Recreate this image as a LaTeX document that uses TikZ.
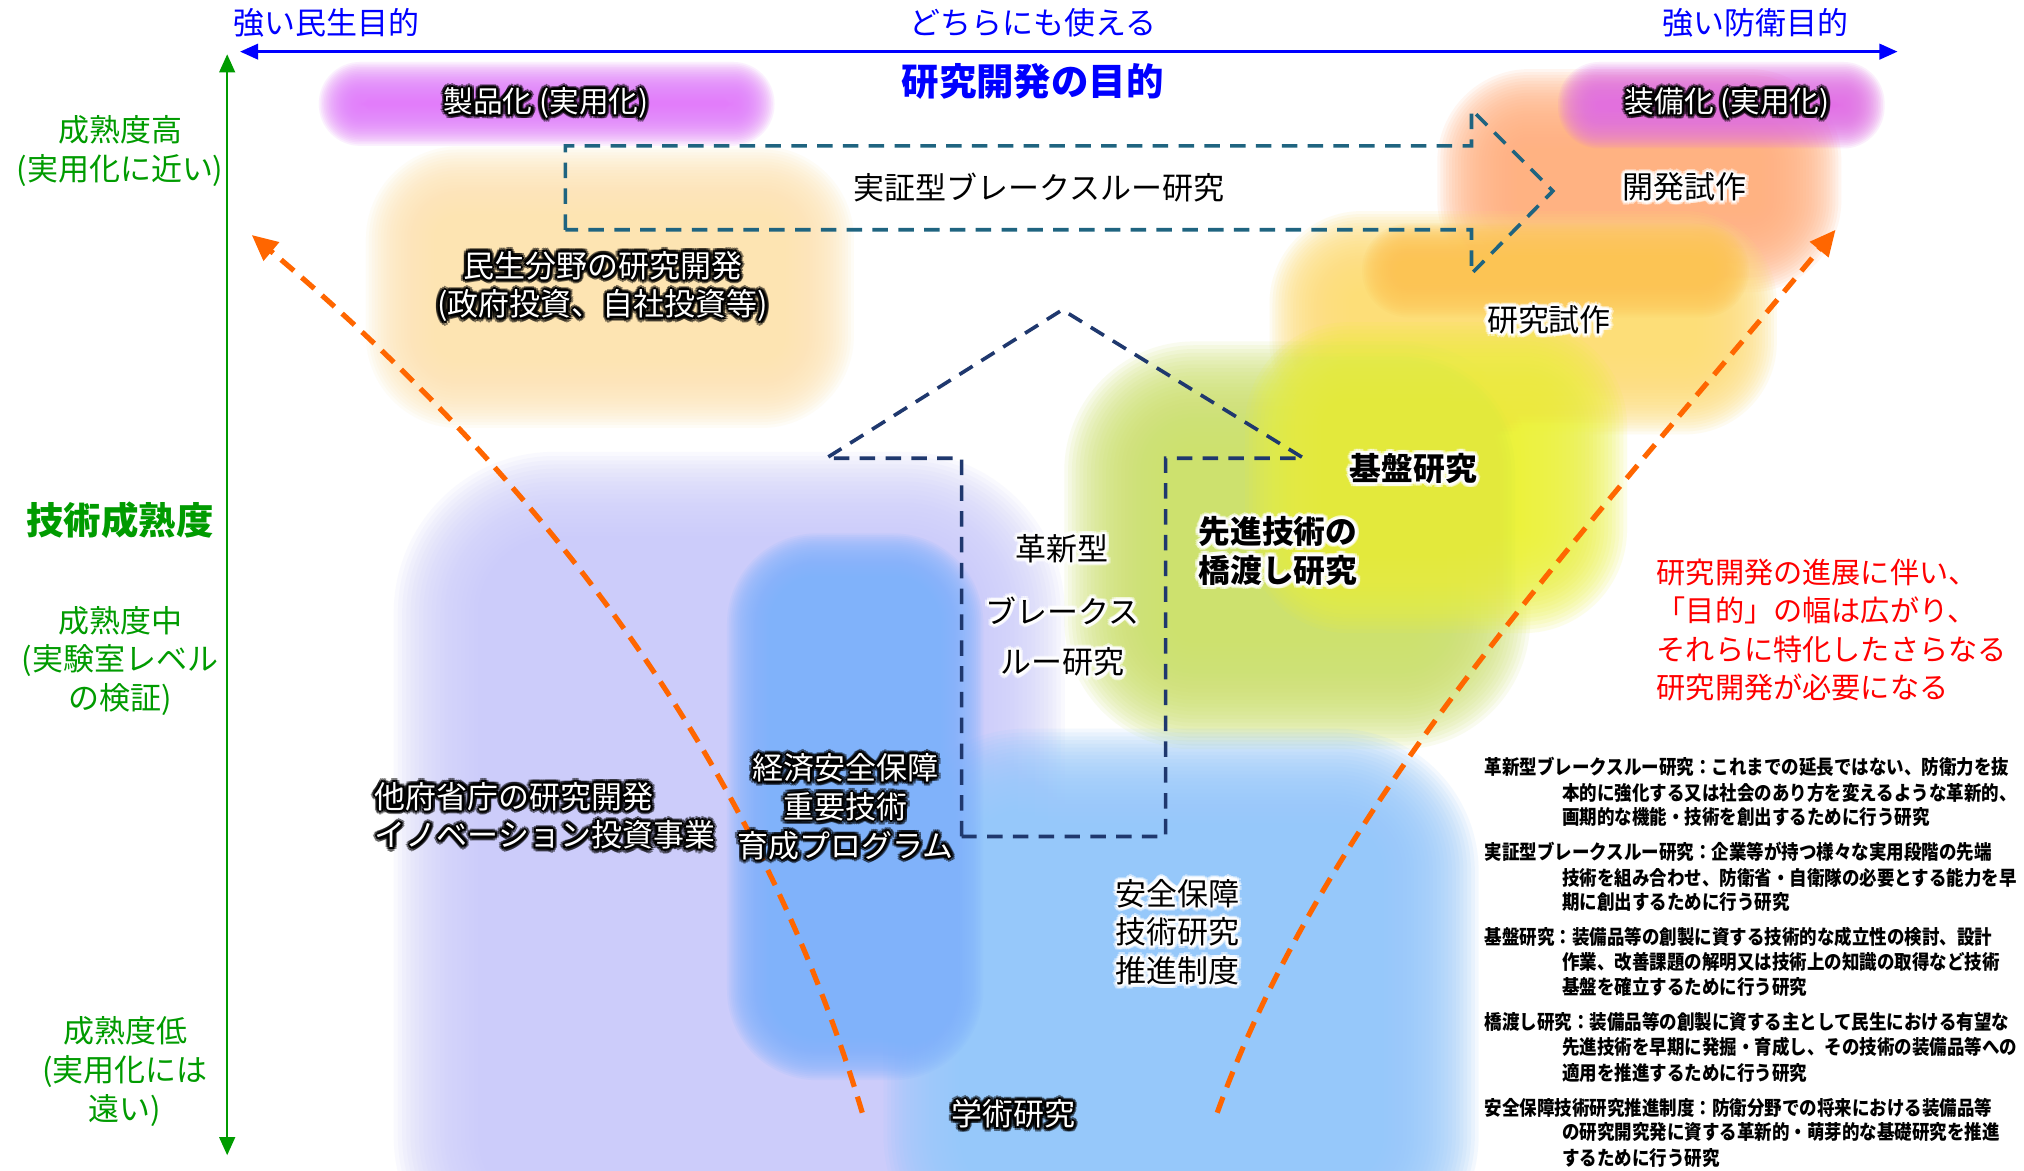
\documentclass[tikz,border=0pt]{standalone}
\usepackage{fontspec}
\setmainfont{Noto Sans CJK JP}
\newfontfamily\defn[FakeStretch=0.88]{Noto Sans CJK JP}
\usetikzlibrary{arrows.meta}
\definecolor{axblue}{RGB}{0,0,255}
\definecolor{grn}{RGB}{0,155,0}
\definecolor{teal2}{RGB}{31,100,128}
\definecolor{navy2}{RGB}{31,56,110}
\definecolor{orng}{RGB}{255,102,0}
\definecolor{lav}{RGB}{204,204,250}
\definecolor{peach}{RGB}{253,228,178}
\definecolor{pinkA}{RGB}{226,125,250}
\definecolor{pinkB}{RGB}{226,112,230}
\definecolor{orgB}{RGB}{255,178,130}
\definecolor{yelA}{RGB}{253,222,120}
\definecolor{yelB}{RGB}{252,196,84}
\definecolor{grnY}{RGB}{205,225,110}
\definecolor{yelC}{RGB}{236,242,60}
\definecolor{ltblue}{RGB}{150,200,250}
\definecolor{mdblue}{RGB}{128,178,252}
% soft blob: colour, x1, y1, x2, y2, corner radius, blur
\newcommand\blob[7]{%
  \foreach \k in {0,...,29}{%
    \pgfmathsetmacro\dd{#7*(0.9-1.9*\k/29)}%
    \pgfmathsetmacro\rr{max(#6+\dd,2)*0.5}%
    \fill[#1, opacity=0.11, rounded corners=\rr pt] ({#2-(\dd)},{#3-(\dd)}) rectangle ({#4+(\dd)},{#5+(\dd)});
  }%
}
% soft glow text node: name, style, glow colour, text colour, position, text
\newcommand\gnode[6]{%
  \foreach \a in {0,30,...,330}{\node[#2,text=#3,opacity=0.5,shift={(\a:1.6pt)}] at (#5) {#6};}%
  \foreach \a in {0,45,...,315}{\node[#2,text=#3,shift={(\a:0.8pt)}] at (#5) {#6};}%
  \node[#2,text=#4] (#1) at (#5) {#6};
}
\begin{document}
\begin{tikzpicture}[x=0.5pt,y=-0.5pt,
  lbl/.style={inner sep=0pt, align=center, font=\fontsize{12}{15}\selectfont},
  lblb/.style={lbl, font=\fontsize{12.3}{15}\selectfont\bfseries},
  lbls/.style={lbl, font=\fontsize{11.5}{14}\selectfont},
  big/.style={lbl, font=\fontsize{14.5}{17}\selectfont\bfseries},
  defs/.style={inner sep=0pt, anchor=west, font=\defn\bfseries\fontsize{7.7}{9}\selectfont},
  axis/.style={line width=1pt, {Triangle[length=7pt,width=6pt]}-{Triangle[length=7pt,width=6pt]}},
  curv/.style={orng, line width=2pt, dash pattern=on 6.5pt off 4pt, -{Triangle[length=10pt,width=9pt]}},
  bigarrow/.style={line width=1.4pt, dash pattern=on 6pt off 4pt, line join=miter}
]
\useasboundingbox (0,0) rectangle (1568,907);
\fill[white] (0,0) rectangle (1568,907);
\begin{scope}
\clip (0,0) rectangle (1568,907);
\blob{lav}{350}{395}{780}{960}{80}{50}
\blob{peach}{315}{145}{630}{300}{40}{35}
\blob{pinkA}{265}{66}{582}{95}{14}{20}
\blob{orgB}{1145}{85}{1395}{195}{40}{35}
\blob{yelA}{1015}{195}{1345}{305}{40}{35}
\blob{yelB}{1075}{193}{1335}{226}{16}{22}
\blob{pinkB}{1225}{66}{1442}{97}{14}{20}
\blob{grnY}{865}{305}{1145}{540}{60}{45}
\blob{yelC}{1005}{290}{1220}{450}{40}{45}
\blob{ltblue}{725}{605}{1105}{950}{70}{45}
\blob{mdblue}{583}{433}{742}{817}{50}{22}
\end{scope}

% axes
\coordinate (hl) at (186,40); \coordinate (hr) at (1470,40);
\draw[axis, axblue] (hl) -- (hr);
\coordinate (vt) at (176,42); \coordinate (vb) at (176,895);
\draw[axis, grn] (vb) -- (vt);

\node[lbl,text=axblue] (t1) at (253,18) {強い民生目的};
\node[lbl,text=axblue] (t2) at (800,18) {どちらにも使える};
\node[lbl,text=axblue] (t3) at (1360,18) {強い防衛目的};
\node[big,text=axblue] (t4) at (800,63) {研究開発の目的};

\node[lbl,text=grn] (g1) at (93,117) {成熟度高\\(実用化に近い)};
\node[big,text=grn] (g2) at (93,403) {技術成熟度};
\node[lbl,text=grn] (g3) at (93,512) {成熟度中\\(実験室レベル\\の検証)};
\node[lbl,text=grn] (g4) at (97,830) {成熟度低\\(実用化には\\遠い)};

% big dashed arrows
\draw[bigarrow, teal2] (438,178) -- (438,113) -- (1140,113) -- (1140,85) -- (1203,148) -- (1140,212) -- (1140,178) -- cycle;
\draw[bigarrow, navy2] (745,648) -- (745,355) -- (640,355) -- (823,240) -- (1010,355) -- (903,355) -- (903,648) -- cycle;

% orange curves
\coordinate (l0) at (668,862); \coordinate (l1) at (195,182);
\coordinate (r0) at (943,862); \coordinate (r1) at (1422,178);
\draw[curv] (l0) .. controls (590,600) and (430,380) .. (l1);
\draw[curv] (r0) .. controls (1030,620) and (1230,410) .. (r1);

% labels
\gnode{p1}{lbls}{black}{white}{423,80}{製品化 (実用化)}
\gnode{p2}{lbls}{black}{white}{1338,80}{装備化 (実用化)}
\gnode{a1}{lbl}{white}{black}{805,145}{実証型ブレークスルー研究}
\gnode{a2}{lbl}{white}{black}{1305,145}{開発試作}
\gnode{a3}{lbl}{black}{white}{467,222}{民生分野の研究開発\\(政府投資、自社投資等)}
\gnode{a4}{lbl}{white}{black}{1200,248}{研究試作}
\gnode{a5}{lblb}{white}{black}{1095,363}{基盤研究}
\gnode{a6}{lblb}{white}{black}{990,427}{先進技術の\\橋渡し研究}
\gnode{a7}{lbl}{white}{black}{823,425}{革新型}
\gnode{a8}{lbl}{white}{black}{823,473}{ブレークス}
\gnode{a9}{lbl}{white}{black}{823,513}{ルー研究}
\gnode{a10}{lbl}{black}{white}{655,625}{経済安全保障\\重要技術\\育成プログラム}
\gnode{a11}{lbl,anchor=west,align=left}{black}{white}{290,632}{他府省庁の研究開発\\イノベーション投資事業}
\gnode{a12}{lbl,anchor=west,align=left}{white}{black}{864,722}{安全保障\\技術研究\\推進制度}
\gnode{a13}{lbl}{black}{white}{785,863}{学術研究}

\node[lbl,text=red,align=left,anchor=west,font=\fontsize{11.3}{14.85}\selectfont] (rt) at (1283,488) {研究開発の進展に伴い、\\「目的」の幅は広がり、\\それらに特化したさらなる\\研究開発が必要になる};

\node[defs] (d1) at (1150,594) {革新型ブレークスルー研究：これまでの延長ではない、防衛力を抜};
\node[defs] (d2) at (1210,614) {本的に強化する又は社会のあり方を変えるような革新的、};
\node[defs] (d3) at (1210,633) {画期的な機能・技術を創出するために行う研究};
\node[defs] (d4) at (1150,660) {実証型ブレークスルー研究：企業等が持つ様々な実用段階の先端};
\node[defs] (d5) at (1210,680) {技術を組み合わせ、防衛省・自衛隊の必要とする能力を早};
\node[defs] (d6) at (1210,699) {期に創出するために行う研究};
\node[defs] (d7) at (1150,726) {基盤研究：装備品等の創製に資する技術的な成立性の検討、設計};
\node[defs] (d8) at (1210,745) {作業、改善課題の解明又は技術上の知識の取得など技術};
\node[defs] (d9) at (1210,765) {基盤を確立するために行う研究};
\node[defs] (d10) at (1150,792) {橋渡し研究：装備品等の創製に資する主として民生における有望な};
\node[defs] (d11) at (1210,811) {先進技術を早期に発掘・育成し、その技術の装備品等への};
\node[defs] (d12) at (1210,831) {適用を推進するために行う研究};
\node[defs] (d13) at (1150,858) {安全保障技術研究推進制度：防衛分野での将来における装備品等};
\node[defs] (d14) at (1210,877) {の研究開究発に資する革新的・萌芽的な基礎研究を推進};
\node[defs] (d15) at (1210,897) {するために行う研究};
\end{tikzpicture}
\end{document}
